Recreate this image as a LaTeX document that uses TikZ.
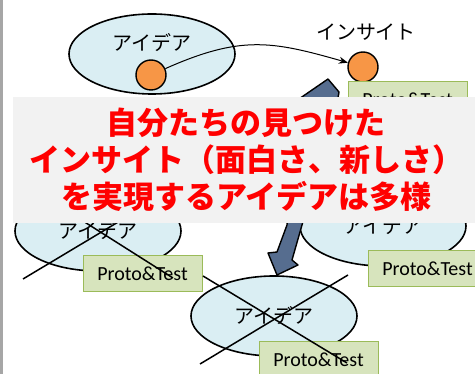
\documentclass[tikz,border=0pt]{standalone}
\usepackage{fontspec}
\setmainfont{Carlito}
\newfontfamily\jp{Noto Sans CJK JP}
\usetikzlibrary{shapes.geometric,arrows.meta}
\definecolor{ellfill}{HTML}{DAEEF3}
\definecolor{orangec}{HTML}{F79646}
\definecolor{protofill}{HTML}{D7E4BD}
\definecolor{protoline}{HTML}{9BBB59}
\definecolor{arrowblue}{HTML}{566D8F}
\definecolor{msggray}{HTML}{F2F2F2}
\definecolor{bargray}{HTML}{A6A6A6}
\definecolor{msgred}{HTML}{FF0000}
\begin{document}
\begin{tikzpicture}[x=1pt,y=-1pt,
  idea/.style={ellipse,draw=black,line width=1.6pt,fill=ellfill,minimum width=166pt,minimum height=80pt,inner sep=0pt,font=\jp\fontsize{20}{24}\selectfont},
  dot/.style={circle,draw=black,line width=1.4pt,fill=orangec,minimum size=30pt,inner sep=0pt},
  proto/.style={rectangle,draw=protoline,line width=1pt,fill=protofill,minimum width=119pt,minimum height=36pt,inner sep=0pt,font=\fontsize{20}{24}\selectfont},
  jplabel/.style={font=\jp\fontsize{20}{24}\selectfont,inner sep=0pt},
  cross/.style={draw=black,line width=1.5pt},
  thinarrow/.style={draw=black,line width=1pt,-{Stealth[length=9pt,width=7pt]}},
  blockarrow/.style={draw=black,line width=1.4pt,fill=arrowblue,line join=round},
  msgbox/.style={rectangle,fill=msggray,minimum width=467pt,minimum height=126pt,inner sep=0pt,align=center,text=msgred,font=\jp\bfseries\fontsize{31}{37}\selectfont},
]
\useasboundingbox (0,0) rectangle (475,374);
\fill[bargray] (0,0) rectangle (2.5,374);
% ellipses
\node[idea] (e1) at (152,54) {};
\node[jplabel] (t1) at (152,43) {アイデア};
\node[idea] (e2) at (98,231) {アイデア};
\node[idea] (e3) at (383,226) {アイデア};
\node[idea] (e4) at (274,316) {アイデア};
% circles
\node[dot] (c1) at (151,75) {};
\node[dot] (c2) at (363,67) {};
\node[jplabel] (t2) at (366,32) {インサイト};
\draw[thinarrow] (c1) .. controls (241,35) and (272,41) .. (c2);
% proto boxes
\node[proto] (p1) at (407.5,100) {Proto\&Test};
\node[proto] (p2) at (142.5,274) {Proto\&Test};
\node[proto] (p3) at (427.5,269) {Proto\&Test};
\node[proto] (p4) at (318.5,360) {Proto\&Test};
% big arrow
\draw[blockarrow] (328,79) -- (339,92) -- (336,110) -- (302,225) -- (292,260) -- (298,265) -- (277,275) -- (268,253) -- (277,252) -- (287,225) -- (296,101) -- cycle;
% crosses
\draw[cross] (23,279) -- (175,188);
\draw[cross] (23,183) -- (173,278);
\draw[cross] (200,364) -- (348,275);
\draw[cross] (203,276) -- (347,363);
% message
\node[msgbox] (msg) at (246.5,160) {自分たちの見つけた\\インサイト（面白さ、新しさ）\\を実現するアイデアは多様};
\end{tikzpicture}
\end{document}
